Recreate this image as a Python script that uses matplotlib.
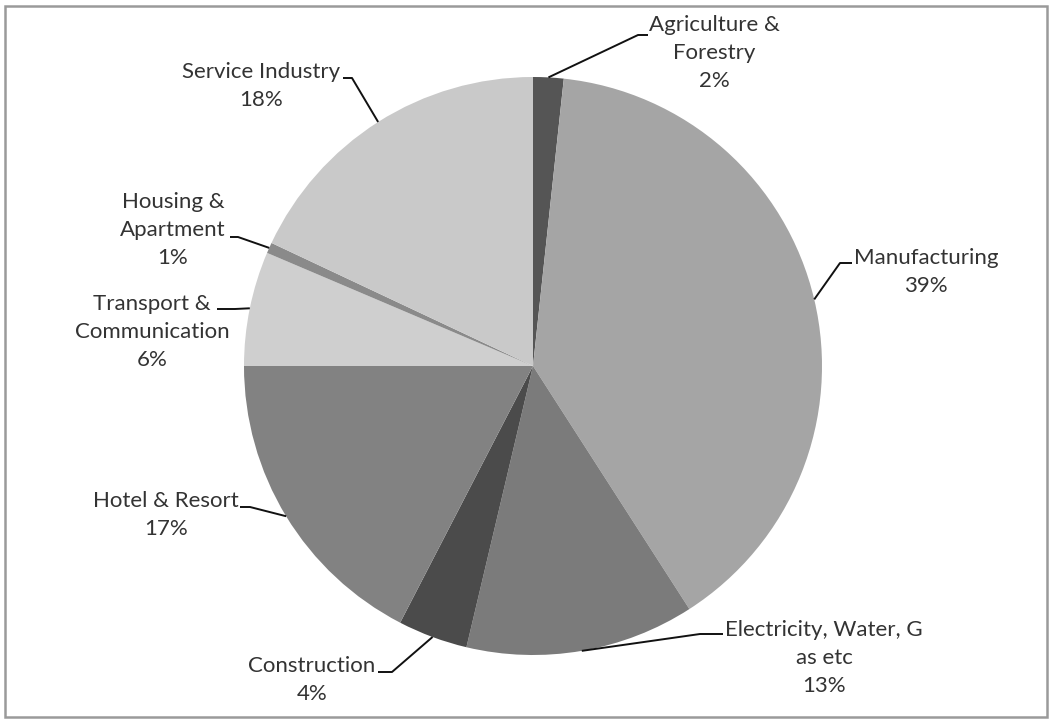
import matplotlib
matplotlib.use("Agg")
import matplotlib.pyplot as plt
import numpy as np
from matplotlib.patches import Rectangle

# ---------------------------------------------------------------------------
# Data (clockwise from 12 o'clock)
# ---------------------------------------------------------------------------
sectors = [
    "Agriculture &\nForestry",
    "Manufacturing",
    "Electricity, Water, G\nas etc",
    "Construction",
    "Hotel & Resort",
    "Transport &\nCommunication",
    "Housing &\nApartment",
    "Service Industry",
]
shares = [1.7, 39.2, 12.8, 3.9, 17.4, 6.4, 0.6, 18.0]
colors = ["#555555", "#a5a5a5", "#7b7b7b", "#4b4b4b",
          "#828282", "#cfcfcf", "#8a8a8a", "#c9c9c9"]

# label layout in image pixels: text centre, line anchor, elbow
label_layout = [
    ((714, 53), (648, 35), (638, 35)),
    ((926, 272), (852, 263), (840, 263)),
    ((824, 658), (723, 634), (700, 634)),
    ((312, 680), (378, 672), (392, 672)),
    ((166, 515), (240, 507), (250, 507)),
    ((152, 332), (217, 309), (235, 309)),
    ((173, 230), (230, 237), (238, 237)),
    ((261, 86), (343, 78), (352, 78)),
]

W, H = 1053, 722
CX, CY, R = 533, 366, 289


def to_data(px, py):
    """Image pixel -> data units (pie radius = 1)."""
    return (px - CX) / R, (CY - py) / R


plt.rcParams["font.family"] = ["Lato", "DejaVu Sans"]

fig = plt.figure(figsize=(W / 100, H / 100), dpi=100)
ax = fig.add_axes([0, 0, 1, 1])

wedges, _ = ax.pie(
    shares,
    colors=colors,
    startangle=90,
    counterclock=False,
    radius=1.0,
    wedgeprops=dict(linewidth=0),
)
ax.set_aspect("equal")
ax.set_xlim(to_data(0, 0)[0], to_data(W, 0)[0])
ax.set_ylim(to_data(0, H)[1], to_data(0, 0)[1])
ax.axis("off")

for wedge, name, share, (txt, anchor, elbow) in zip(
        wedges, sectors, shares, label_layout):
    mid = np.deg2rad((wedge.theta1 + wedge.theta2) / 2)
    edge = (np.cos(mid), np.sin(mid))
    a = to_data(*anchor)
    e = to_data(*elbow)
    ax.plot([a[0], e[0], edge[0]], [a[1], e[1], edge[1]],
            color="#111111", lw=1.4, solid_capstyle="butt")
    tx, ty = to_data(*txt)
    ax.text(tx, ty, f"{name}\n{round(share)}%", ha="center", va="center",
            fontsize=16, color="#333333", linespacing=1.5)

# grey frame around the chart
fig.patches.append(Rectangle((5 / W, 5 / H), 1042 / W, 711 / H,
                             transform=fig.transFigure, fill=False,
                             edgecolor="#9a9a9a", lw=1.8))

fig.savefig("out.png", dpi=100)
